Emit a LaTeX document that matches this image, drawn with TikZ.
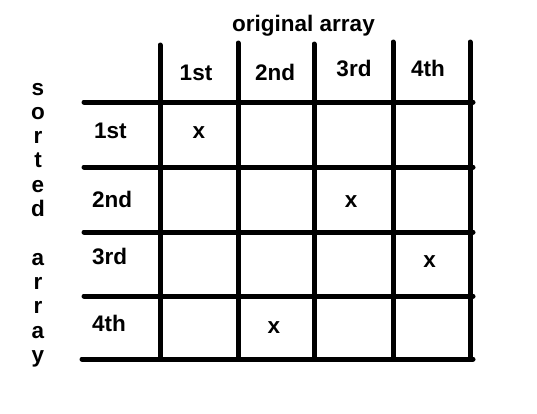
\documentclass[tikz,border=0pt]{standalone}
\usepackage{fontspec}
\setmainfont{Liberation Sans}
\tikzset{
  gridline/.style={line width=5pt, line cap=round},
  lbl/.style={font=\fontsize{22.5}{26}\selectfont\bfseries, anchor=base, inner sep=0pt},
  rowlbl/.style={lbl, anchor=base west},
}
\begin{document}
\begin{tikzpicture}[x=1pt,y=-1pt]
	\useasboundingbox (0,0) rectangle (537,413);
	% grid lines
	\foreach \x/\t in {160/45,238/43,314/44,393/42,470/42}
		\draw[gridline] (\x,\t) -- (\x,359);
	\foreach \y in {102,167,232,296}
		\draw[gridline] (84,\y) -- (473,\y);
	\draw[gridline] (82,359) -- (473,359);
	% heads
	\node[lbl] (title) at (303.5,31) {original array};
	\node[lbl] (c1) at (196,80) {1st};
	\node[lbl] (c2) at (275,80) {2nd};
	\node[lbl] (c3) at (354,76) {3rd};
	\node[lbl] (c4) at (428,76) {4th};
	\node[rowlbl] (r1) at (94,138) {1st};
	\node[rowlbl] (r2) at (92,207) {2nd};
	\node[rowlbl] (r3) at (92,264) {3rd};
	\node[rowlbl] (r4) at (92,331) {4th};
	% marks
	\node[lbl] (m1) at (199,138) {x};
	\node[lbl] (m2) at (351,207) {x};
	\node[lbl] (m3) at (429.5,267) {x};
	\node[lbl] (m4) at (274,333) {x};
	% side caption, one letter per line
	\foreach \c/\i in {s/0,o/1,r/2,t/3,e/4,d/5,a/7,r/8,r/9,a/10,y/11}
		\node[lbl] (s\i) at (38,95+24.3*\i) {\c};
\end{tikzpicture}
\end{document}
